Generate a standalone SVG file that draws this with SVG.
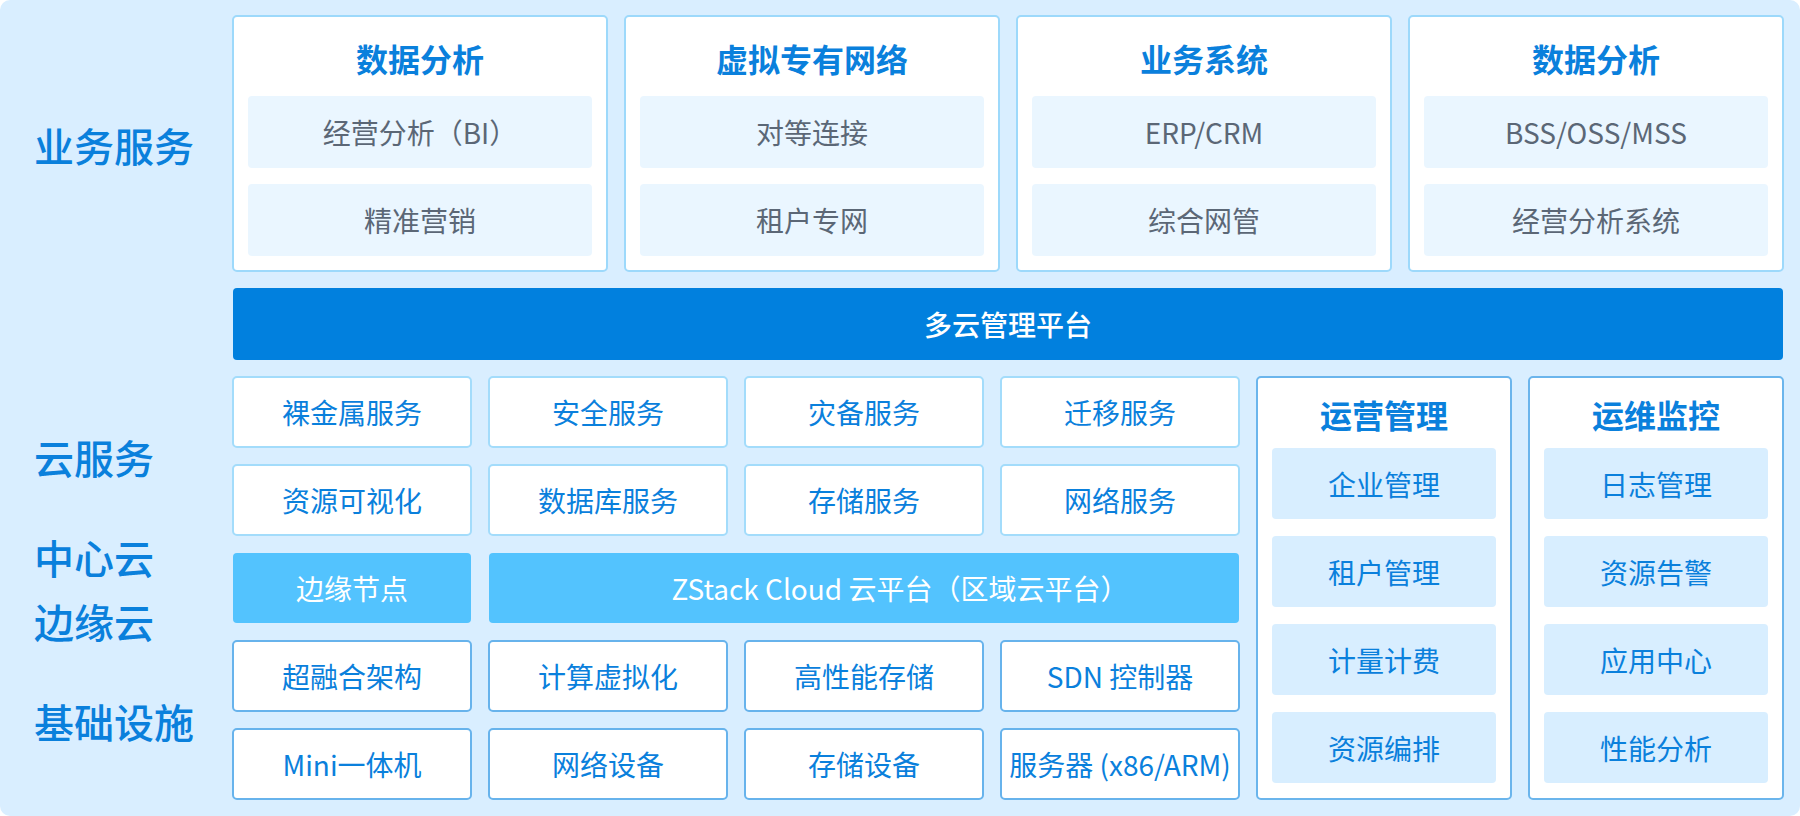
<svg xmlns="http://www.w3.org/2000/svg" width="1800" height="816" viewBox="0 0 1800 816">
<style>
text{font-family:"Noto Sans CJK SC","Noto Sans",sans-serif;text-anchor:middle;dominant-baseline:central}
.lbl{font-size:40px;fill:#0a80dc;font-weight:500;text-anchor:start}
.card{fill:#fff;stroke:#9dd9fb;stroke-width:2}
.sub{fill:#eaf6ff}
.ttl{font-size:32px;font-weight:700;fill:#0a80dc}
.gtx{font-size:28px;fill:#5b6776}
.svc{fill:#fff;stroke:#a3dcfb;stroke-width:2}
.inf{fill:#fff;stroke:#67b3ec;stroke-width:2}
.btx{font-size:28px;fill:#0a80dc}
.edge{fill:#53c3fe}
.wtx{font-size:28px;fill:#fff}
.pan{fill:#fff;stroke:#6bb5ec;stroke-width:2}
.psub{fill:#d8eeff}
</style>
<rect x="0" y="0" width="1800" height="816" rx="10" fill="#d9eeff"/>
<g id="labels">
<text class="lbl" x="34" y="145">业务服务</text>
<text class="lbl" x="34" y="457">云服务</text>
<text class="lbl" x="34" y="557">中心云</text>
<text class="lbl" x="34" y="621">边缘云</text>
<text class="lbl" x="34" y="721">基础设施</text>
</g>
<g id="card1">
<rect class="card" x="233" y="16" width="374" height="255" rx="4"/>
<text class="ttl" x="420" y="58">数据分析</text>
<rect class="sub" x="248" y="96" width="344" height="72" rx="4"/>
<text class="gtx" x="420" y="132">经营分析（BI）</text>
<rect class="sub" x="248" y="184" width="344" height="72" rx="4"/>
<text class="gtx" x="420" y="220">精准营销</text>
</g>
<g id="card2">
<rect class="card" x="625" y="16" width="374" height="255" rx="4"/>
<text class="ttl" x="812" y="58">虚拟专有网络</text>
<rect class="sub" x="640" y="96" width="344" height="72" rx="4"/>
<text class="gtx" x="812" y="132">对等连接</text>
<rect class="sub" x="640" y="184" width="344" height="72" rx="4"/>
<text class="gtx" x="812" y="220">租户专网</text>
</g>
<g id="card3">
<rect class="card" x="1017" y="16" width="374" height="255" rx="4"/>
<text class="ttl" x="1204" y="58">业务系统</text>
<rect class="sub" x="1032" y="96" width="344" height="72" rx="4"/>
<text class="gtx" x="1204" y="132">ERP/CRM</text>
<rect class="sub" x="1032" y="184" width="344" height="72" rx="4"/>
<text class="gtx" x="1204" y="220">综合网管</text>
</g>
<g id="card4">
<rect class="card" x="1409" y="16" width="374" height="255" rx="4"/>
<text class="ttl" x="1596" y="58">数据分析</text>
<rect class="sub" x="1424" y="96" width="344" height="72" rx="4"/>
<text class="gtx" x="1596" y="132">BSS/OSS/MSS</text>
<rect class="sub" x="1424" y="184" width="344" height="72" rx="4"/>
<text class="gtx" x="1596" y="220">经营分析系统</text>
</g>
<g id="mcp">
<rect x="233" y="288" width="1550" height="72" rx="4" fill="#0180de"/>
<text class="wtx" x="1008" y="324" style="font-weight:500">多云管理平台</text>
</g>
<g id="svc-row1">
<rect class="svc" x="233" y="377" width="238" height="70" rx="4"/><text class="btx" x="352" y="412">裸金属服务</text>
<rect class="svc" x="489" y="377" width="238" height="70" rx="4"/><text class="btx" x="608" y="412">安全服务</text>
<rect class="svc" x="745" y="377" width="238" height="70" rx="4"/><text class="btx" x="864" y="412">灾备服务</text>
<rect class="svc" x="1001" y="377" width="238" height="70" rx="4"/><text class="btx" x="1120" y="412">迁移服务</text>
</g>
<g id="svc-row2">
<rect class="svc" x="233" y="465" width="238" height="70" rx="4"/><text class="btx" x="352" y="500">资源可视化</text>
<rect class="svc" x="489" y="465" width="238" height="70" rx="4"/><text class="btx" x="608" y="500">数据库服务</text>
<rect class="svc" x="745" y="465" width="238" height="70" rx="4"/><text class="btx" x="864" y="500">存储服务</text>
<rect class="svc" x="1001" y="465" width="238" height="70" rx="4"/><text class="btx" x="1120" y="500">网络服务</text>
</g>
<g id="cloud-row">
<rect class="edge" x="233" y="553" width="238" height="70" rx="4"/><text class="wtx" x="352" y="588">边缘节点</text>
<rect class="edge" x="489" y="553" width="750" height="70" rx="4"/><text class="wtx" x="900" y="588">ZStack Cloud 云平台（区域云平台）</text>
</g>
<g id="infra-row1">
<rect class="inf" x="233" y="641" width="238" height="70" rx="4"/><text class="btx" x="352" y="676">超融合架构</text>
<rect class="inf" x="489" y="641" width="238" height="70" rx="4"/><text class="btx" x="608" y="676">计算虚拟化</text>
<rect class="inf" x="745" y="641" width="238" height="70" rx="4"/><text class="btx" x="864" y="676">高性能存储</text>
<rect class="inf" x="1001" y="641" width="238" height="70" rx="4"/><text class="btx" x="1120" y="676">SDN 控制器</text>
</g>
<g id="infra-row2">
<rect class="inf" x="233" y="729" width="238" height="70" rx="4"/><text class="btx" x="352" y="764">Mini一体机</text>
<rect class="inf" x="489" y="729" width="238" height="70" rx="4"/><text class="btx" x="608" y="764">网络设备</text>
<rect class="inf" x="745" y="729" width="238" height="70" rx="4"/><text class="btx" x="864" y="764">存储设备</text>
<rect class="inf" x="1001" y="729" width="238" height="70" rx="4"/><text class="btx" x="1120" y="764">服务器 (x86/ARM)</text>
</g>
<g id="ops">
<rect class="pan" x="1257" y="377" width="254" height="422" rx="4"/>
<text class="ttl" x="1384" y="414">运营管理</text>
<rect class="psub" x="1272" y="448" width="224" height="71" rx="4"/><text class="btx" x="1384" y="484">企业管理</text>
<rect class="psub" x="1272" y="536" width="224" height="71" rx="4"/><text class="btx" x="1384" y="572">租户管理</text>
<rect class="psub" x="1272" y="624" width="224" height="71" rx="4"/><text class="btx" x="1384" y="660">计量计费</text>
<rect class="psub" x="1272" y="712" width="224" height="71" rx="4"/><text class="btx" x="1384" y="748">资源编排</text>
</g>
<g id="monitor">
<rect class="pan" x="1529" y="377" width="254" height="422" rx="4"/>
<text class="ttl" x="1656" y="414">运维监控</text>
<rect class="psub" x="1544" y="448" width="224" height="71" rx="4"/><text class="btx" x="1656" y="484">日志管理</text>
<rect class="psub" x="1544" y="536" width="224" height="71" rx="4"/><text class="btx" x="1656" y="572">资源告警</text>
<rect class="psub" x="1544" y="624" width="224" height="71" rx="4"/><text class="btx" x="1656" y="660">应用中心</text>
<rect class="psub" x="1544" y="712" width="224" height="71" rx="4"/><text class="btx" x="1656" y="748">性能分析</text>
</g>
<g id="connectors"></g>
</svg>
